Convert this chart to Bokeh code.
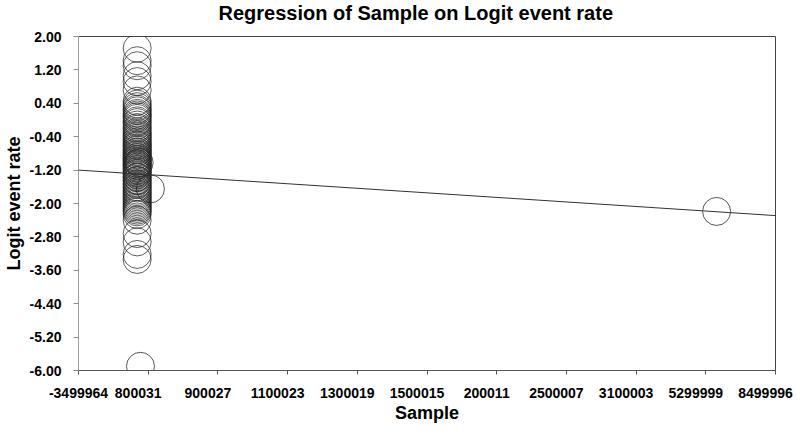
from bokeh.plotting import figure
from bokeh.models import Range1d, FixedTicker, Slope, LinearAxis
from bokeh.embed import file_html
from bokeh.resources import INLINE

# ---- data ----
x_tick_values = [-3499964, -2299968, -1099972, 100024, 1300020, 2500016,
                 3700012, 4900008, 6100004, 7300000, 8499996]
x_tick_labels = ["-3499964", "800031", "900027", "1100023", "1300019", "1500015",
                 "200011", "2500007", "3100003", "5299999", "8499996"]
y_tick_values = [-6.0, -5.2, -4.4, -3.6, -2.8, -2.0, -1.2, -0.4, 0.4, 1.2, 2.0]
y_tick_labels = ["-6.00", "-5.20", "-4.40", "-3.60", "-2.80", "-2.00",
                 "-1.20", "-0.40", "0.40", "1.20", "2.00"]

logit_cluster = [1.72, 1.42, 1.30, 1.06, 0.92, 0.72, 0.45, 0.32, 0.22, 0.12,
                 0.04, -0.06, -0.18, -0.28, -0.36, -0.44, -0.52, -0.60, -0.66,
                 -0.72, -0.78, -0.84, -0.90, -0.95, -1.00, -1.05, -1.10, -1.16,
                 -1.22, -1.28, -1.36, -1.44, -1.52, -1.60, -1.68, -1.76, -1.84,
                 -1.92, -2.00, -2.08, -2.16, -2.26, -2.40, -2.72, -2.92, -3.22,
                 -3.34,
                 0.38, 0.26, 0.16, 0.08, -0.02, -0.12, -0.22, -0.32,
                 -0.40, -0.48, -0.56, -0.62, -0.70, -0.76, -0.82, -0.88, -0.93,
                 -0.98, -1.04, -1.08, -1.13, -1.19, -1.25, -1.31, -1.38, -1.46,
                 -1.55, -1.63, -1.72, -1.80, -1.88, -1.96, -2.04, -2.12, -2.20]
sample_cluster = [-2490000] * len(logit_cluster)

sample_other = [-2433000, -2262000, -2456000, 7486000]
logit_other = [-5.90, -1.65, -1.02, -2.19]

reg_intercept = -1.518     # logit at sample = 0
reg_slope = -9.08e-8       # per unit of sample

x_min, x_max = -3499964, 8499996
y_min, y_max = -6.0, 2.0

FONT = "Liberation Sans"
FRAME_W = 697          # 797 - 78 - 22
LABEL_SHIFT_PX = 10    # reference prints x tick labels ~10px left of their ticks

p = figure(width=797, height=433, output_backend="svg", toolbar_location=None,
           x_range=Range1d(x_min, x_max), y_range=Range1d(y_min, y_max),
           min_border_left=78, min_border_right=22, min_border_top=36,
           min_border_bottom=63)

xa = p.below[0]
ya = p.left[0]

p.title.text = "Regression of Sample on Logit event rate"
p.title.align = "left"
p.title.offset = 140
p.title.vertical_align = "top"
p.title.text_font = FONT
p.title.text_font_style = "bold"
p.title.text_font_size = "20px"
p.title.text_color = "black"
p.title.standoff = 2

# invisible spacer between the frame and the title (lifts the title up)
spacer = LinearAxis(ticker=FixedTicker(ticks=[x_min]), axis_line_color=None,
                    major_tick_line_color="white", minor_tick_line_color=None,
                    major_tick_out=10, major_tick_in=0, minor_tick_out=0,
                    minor_tick_in=0, major_label_standoff=0,
                    major_label_overrides={x_min: ""},
                    major_label_text_font_size="2px")
p.add_layout(spacer, "above")

p.grid.visible = False
p.outline_line_color = "#444444"
p.outline_line_width = 1

# y axis
ya.ticker = FixedTicker(ticks=y_tick_values)
ya.major_label_overrides = {v: s for v, s in zip(y_tick_values, y_tick_labels)}
ya.major_label_text_font = FONT
ya.major_label_text_font_style = "bold"
ya.major_label_text_font_size = "14px"
ya.major_label_text_color = "black"
ya.major_label_standoff = 12
ya.major_tick_out = 5
ya.major_tick_in = 0
ya.minor_tick_out = 0
ya.minor_tick_in = 0
ya.axis_line_color = "#a0a0a0"
ya.major_tick_line_color = "#909090"
ya.axis_label = "Logit event rate"
ya.axis_label_text_font = FONT
ya.axis_label_text_font_style = "bold"
ya.axis_label_text_font_size = "18px"
ya.axis_label_text_color = "black"
ya.axis_label_standoff = 3

# x axis line and ticks (no labels)
xa.ticker = FixedTicker(ticks=x_tick_values)
xa.major_label_overrides = {v: "" for v in x_tick_values}
xa.major_label_standoff = 0
xa.major_label_text_font_size = "4px"
xa.major_tick_out = 4
xa.major_tick_in = 0
xa.minor_tick_out = 0
xa.minor_tick_in = 0
xa.axis_line_color = "#555555"
xa.major_tick_line_color = "#555555"

# second axis below: only the tick labels, set ~10px left of the ticks
# (the first one cannot go left of the frame, so it stays on its tick)
shift = round(LABEL_SHIFT_PX * (x_max - x_min) / FRAME_W)
label_ticks = [x_tick_values[0]] + [v - shift for v in x_tick_values[1:]]
lab_axis = LinearAxis(ticker=FixedTicker(ticks=label_ticks),
                      major_label_overrides={t: s for t, s in zip(label_ticks, x_tick_labels)},
                      axis_line_color=None, major_tick_line_color=None,
                      minor_tick_line_color=None, major_tick_out=0, major_tick_in=0,
                      minor_tick_out=0, minor_tick_in=0,
                      major_label_standoff=13,
                      major_label_text_font=FONT, major_label_text_font_style="bold",
                      major_label_text_font_size="14px", major_label_text_color="black",
                      axis_label="Sample", axis_label_text_font=FONT,
                      axis_label_text_font_style="bold", axis_label_text_font_size="18px",
                      axis_label_text_color="black", axis_label_standoff=2)
p.add_layout(lab_axis, "below")

# regression line
p.add_layout(Slope(gradient=reg_slope, y_intercept=reg_intercept,
                   line_color="#333333", line_width=1))

# study circles
p.scatter(sample_cluster, logit_cluster, marker="circle", size=28,
          fill_color=None, line_color="#222222", line_width=0.9, line_alpha=0.8)
p.scatter(sample_other, logit_other, marker="circle", size=28,
          fill_color=None, line_color="#222222", line_width=0.9, line_alpha=0.85)

open("out.html", "w").write(file_html(p, INLINE))
